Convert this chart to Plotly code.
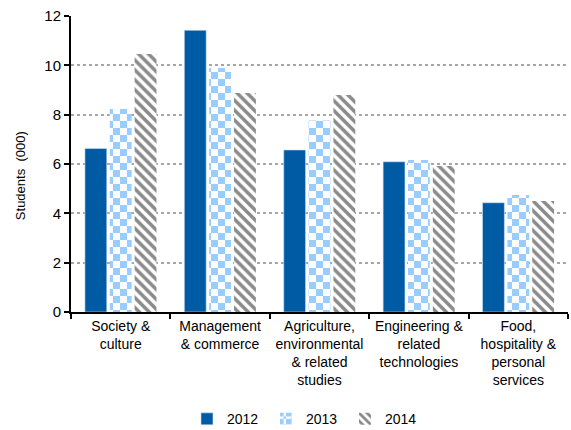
import plotly.graph_objects as go

categories = [
    "Society &<br>culture",
    "Management<br>& commerce",
    "Agriculture,<br>environmental<br>& related<br>studies",
    "Engineering &<br>related<br>technologies",
    "Food,<br>hospitality &<br>personal<br>services",
]
years = ["2012", "2013", "2014"]
values_2012 = [6.63, 11.42, 6.57, 6.09, 4.43]
values_2013 = [8.23, 9.89, 7.76, 6.16, 4.74]
values_2014 = [10.46, 8.88, 8.80, 5.92, 4.50]
y_ticks = [0, 2, 4, 6, 8, 10, 12]

FONT = "Liberation Sans, Arial, sans-serif"

fig = go.Figure()

# 2012: solid dark blue
fig.add_trace(go.Bar(
    name=years[0], x=categories, y=values_2012,
    marker=dict(color="#005BA5", line=dict(width=0.6, color="#CFE3F3")),
))

# 2013: light blue checkerboard
fig.add_trace(go.Bar(
    name=years[1], x=categories, y=values_2013,
    marker=dict(
        color="#99CCFF",
        line=dict(width=0),
        pattern=dict(
            path="M0,0H7V7H0Z M7,7H14V14H7Z",
            size=14,
            fgcolor="#99CCFF",
            bgcolor="white",
            fillmode="replace",
            solidity=1,
        ),
    ),
))

# 2014: grey diagonal stripes
fig.add_trace(go.Bar(
    name=years[2], x=categories, y=values_2014,
    marker=dict(
        color="#8A8A8A",
        line=dict(width=0),
        pattern=dict(
            shape="\\",
            size=7,
            solidity=0.5,
            fgcolor="#8A8A8A",
            bgcolor="white",
            fillmode="replace",
        ),
    ),
))

fig.update_layout(
    width=571, height=430,
    margin=dict(l=71, r=3, t=16, b=118),
    paper_bgcolor="white", plot_bgcolor="white",
    font=dict(family=FONT, size=14, color="#000000"),
    barmode="group",
    bargap=0.25,
    bargroupgap=0.12,
    showlegend=True,
    legend=dict(
        orientation="h",
        xref="container", yref="container",
        x=0.535, xanchor="center",
        y=0.025, yanchor="middle",
        font=dict(size=14),
        itemwidth=30,
        entrywidth=34,
        entrywidthmode="pixels",
        traceorder="normal",
    ),
    xaxis=dict(
        showline=True, linecolor="black", linewidth=2,
        ticks="outside", ticklen=5, tickcolor="black", tickwidth=2,
        tickson="boundaries",
        showgrid=False,
        tickfont=dict(size=14),
    ),
    yaxis=dict(
        range=[0, 12],
        tickvals=y_ticks,
        showline=True, linecolor="black", linewidth=2,
        ticks="outside", ticklen=5, tickcolor="black", tickwidth=2,
        showgrid=True, gridcolor="#A6A6A6", gridwidth=1.5, griddash="dot",
        zeroline=False,
        tickfont=dict(size=15),
    ),
    annotations=[dict(
        text="Students  (000)",
        xref="paper", yref="paper",
        x=-0.1, y=0.46,
        xanchor="center", yanchor="middle",
        showarrow=False, textangle=-90,
        font=dict(size=13),
    )],
)

fig.write_html("out.html")
